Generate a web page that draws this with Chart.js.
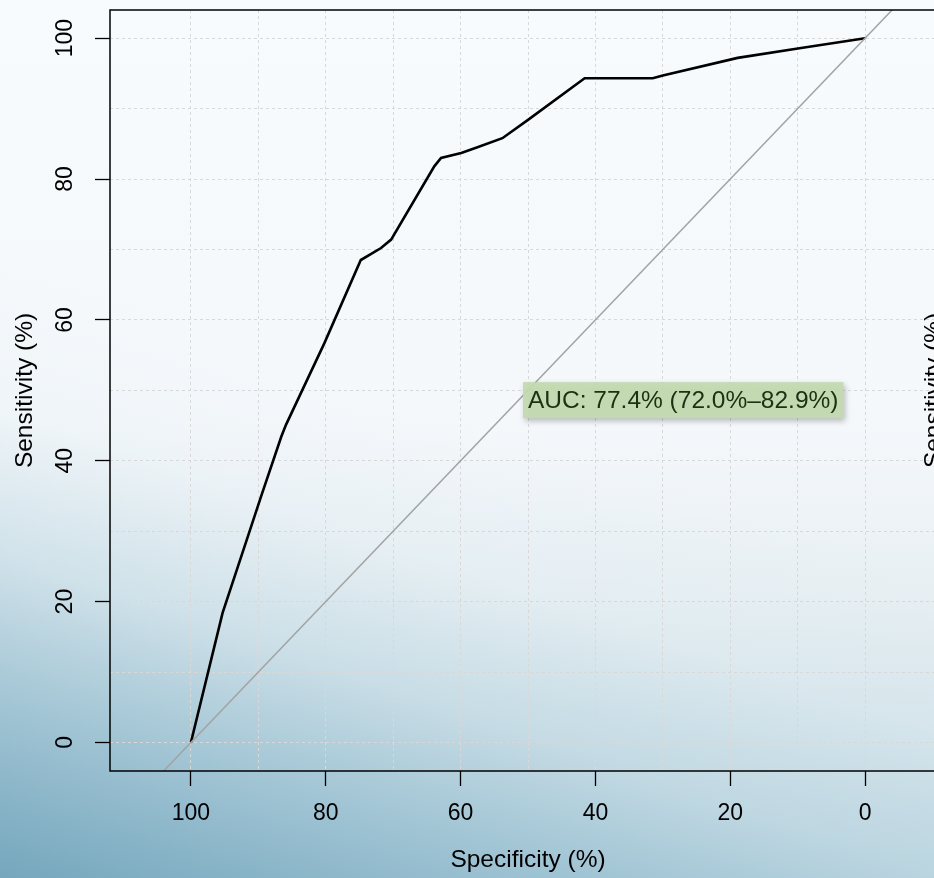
<!DOCTYPE html>
<html>
<head>
<meta charset="utf-8">
<script src="https://cdn.jsdelivr.net/npm/chart.js@4.4.0/dist/chart.umd.min.js"></script>
<style>
  html, body { margin: 0; padding: 0; width: 934px; height: 878px; overflow: hidden; }
  body {
    background:
      linear-gradient(19deg, rgba(104,158,182,0.85) 0%, rgba(136,181,201,0.7) 14%, rgba(178,208,221,0.45) 27%, rgba(214,231,238,0.2) 39%, rgba(240,246,249,0) 52%),
      linear-gradient(to bottom, #f8fbfd 0%, #f5f8fb 48%, #e7eff3 68%, #d3e3ea 85%, #c0d8e2 100%);
  }
  canvas { display: block; }
</style>
</head>
<body>
<canvas id="roc" width="950" height="878"></canvas>
<script>
// ROC curve (specificity %, sensitivity %)
const specificity = [100, 95.3, 91.4, 89.6, 86.6, 85.9, 80.2, 74.8, 71.8, 70.3, 63.9, 62.9, 59.9, 57.5, 53.8, 50.0, 41.6, 31.5, 30.0, 18.9, 9.5, 0];
const sensitivity = [0, 18.4, 29.7, 34.9, 43.4, 45.1, 56.7, 68.5, 70.2, 71.4, 81.8, 83.0, 83.7, 84.5, 85.8, 88.4, 94.3, 94.3, 94.7, 97.2, 98.6, 100];

// chance line, runs past the frame and gets clipped
const diagSpec = [106, -6];
const diagSens = [-6, 106];

const gridValues = [0, 10, 20, 30, 40, 50, 60, 70, 80, 90, 100];

const aucText = 'AUC: 77.4% (72.0%\u201382.9%)';
const aucSpec = 50;
const aucSens = 48.6;

const FONT = "'Liberation Sans', Arial, Helvetica, sans-serif";

const setGrid = (scale) => {
  scale.ticks = gridValues.map(v => ({ value: v }));
};

const noPad = (s) => {
  s.paddingTop = 0; s.paddingBottom = 0; s.paddingLeft = 0; s.paddingRight = 0;
};

const tickCol = (c) => (c.tick && c.tick.value % 20 === 0) ? '#000' : 'rgba(0,0,0,0)';

const framePlugin = {
  id: 'frame',
  afterDatasetsDraw(chart) {
    const { ctx, chartArea: a, scales: { x, y } } = chart;
    ctx.save();

    // AUC label
    ctx.font = '24.5px ' + FONT;
    const tx = x.getPixelForValue(aucSpec);
    const ty = y.getPixelForValue(aucSens);
    const w = ctx.measureText(aucText).width;
    ctx.shadowColor = 'rgba(0,0,0,0.28)';
    ctx.shadowBlur = 6;
    ctx.shadowOffsetX = 2;
    ctx.shadowOffsetY = 3;
    ctx.fillStyle = 'rgba(194,218,176,0.95)';
    ctx.fillRect(tx - 5, ty - 18, w + 10, 36);
    ctx.shadowColor = 'transparent';
    ctx.fillStyle = '#1d3013';
    ctx.textBaseline = 'middle';
    ctx.textAlign = 'left';
    ctx.fillText(aucText, tx, ty + 1);

    // full box round the plot
    ctx.strokeStyle = '#000';
    ctx.lineWidth = 1.5;
    ctx.strokeRect(a.left, a.top, a.right - a.left, a.bottom - a.top);
    ctx.restore();
  },
  afterDraw(chart) {
    // axis title of the neighbouring panel, cut by the right edge
    const { ctx, scales: { y } } = chart;
    ctx.save();
    ctx.font = '24.5px ' + FONT;
    ctx.fillStyle = '#000';
    ctx.textAlign = 'center';
    ctx.textBaseline = 'middle';
    ctx.translate(934, (y.top + y.bottom) / 2);
    ctx.rotate(-Math.PI / 2);
    ctx.fillText('Sensitivity (%)', 0, 0);
    ctx.restore();
  }
};

new Chart(document.getElementById('roc'), {
  type: 'line',
  data: {
    datasets: [
      {
        data: diagSpec.map((s, i) => ({ x: s, y: diagSens[i] })),
        borderColor: '#a3a3a3',
        borderWidth: 1.5,
        pointRadius: 0,
        tension: 0
      },
      {
        data: specificity.map((s, i) => ({ x: s, y: sensitivity[i] })),
        borderColor: '#000',
        borderWidth: 2.6,
        pointRadius: 0,
        tension: 0
      }
    ]
  },
  options: {
    responsive: false,
    animation: false,
    devicePixelRatio: 1,
    layout: { padding: { left: 0, top: 10, right: 4, bottom: 0 } },
    plugins: {
      legend: { display: false },
      tooltip: { enabled: false }
    },
    scales: {
      x: {
        type: 'linear',
        reverse: true,
        min: -12,
        max: 112,
        afterBuildTicks: setGrid,
        afterFit: (s) => { s.height = 107; noPad(s); },
        grid: {
          color: '#d8d8d8',
          tickLength: 15,
          tickWidth: 1.3,
          tickColor: tickCol
        },
        border: { display: false, dash: [3, 3] },
        ticks: {
          autoSkip: false,
          maxRotation: 0,
          padding: 14,
          color: '#000',
          font: { family: FONT, size: 23 },
          callback: (v) => v % 20 === 0 ? String(v) : ''
        },
        title: {
          display: true,
          text: 'Specificity (%)',
          color: '#000',
          font: { family: FONT, size: 24.5 },
          padding: { top: 0, bottom: 3 }
        }
      },
      y: {
        type: 'linear',
        min: -4.05,
        max: 104,
        afterBuildTicks: setGrid,
        afterFit: (s) => { s.width = 110; noPad(s); },
        grid: {
          color: '#d8d8d8',
          tickLength: 15,
          tickWidth: 1.3,
          tickColor: tickCol
        },
        border: { display: false, dash: [3, 3] },
        ticks: {
          autoSkip: false,
          minRotation: 90,
          maxRotation: 90,
          crossAlign: 'center',
          padding: 10,
          color: '#000',
          font: { family: FONT, size: 23 },
          callback: (v) => v % 20 === 0 ? String(v) : ''
        },
        title: {
          display: true,
          text: 'Sensitivity (%)',
          color: '#000',
          font: { family: FONT, size: 24.5 },
          padding: { top: 11, bottom: 0 }
        }
      }
    }
  },
  plugins: [framePlugin]
});
</script>
</body>
</html>
